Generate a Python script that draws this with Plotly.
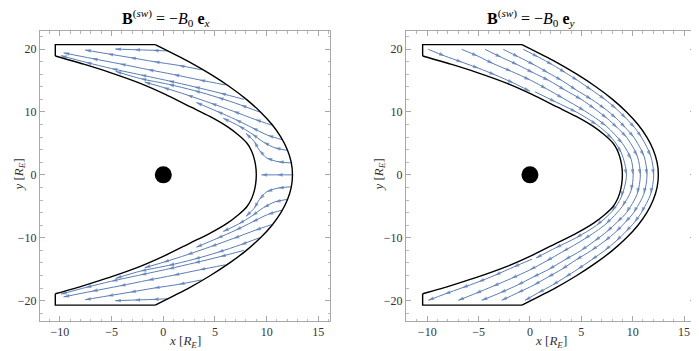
import plotly.graph_objects as go

# ---------------- boundaries ----------------
bs_y = [20.7, 18, 16, 14, 12, 10, 8, 6, 4, 2, 0, -2, -4, -6, -8, -10, -12, -14, -16, -18, -20.7]
bs_x = [-0.78, 2.46, 4.56, 6.42, 8.04, 9.4, 10.52, 11.38, 12.0, 12.38, 12.5, 12.38, 12.0, 11.38,
        10.52, 9.4, 8.04, 6.42, 4.56, 2.46, -0.78]
mp_y = [-18.9, -17.6, -16.3, -14.55, -12.8, -10.84, -9.3, -7.67, -6.3, -5.03, -4.0, -2.9, -1.5, 0,
        1.5, 2.9, 4.0, 5.03, 6.3, 7.67, 9.3, 10.84, 12.8, 14.55, 16.3, 17.6, 18.9]
mp_x = [-10.45, -7.7, -5.2, -2.23, 0.2, 2.6, 4.5, 6.2, 7.3, 8.1, 8.48, 8.74, 8.93, 9.0,
        8.93, 8.74, 8.48, 8.1, 7.3, 6.2, 4.5, 2.6, 0.2, -2.23, -5.2, -7.7, -10.45]
top_edge_x = [-10.45, -10.45, -0.78]
top_edge_y = [18.9, 20.7, 20.7]
bot_edge_x = [-10.45, -10.45, -0.78]
bot_edge_y = [-18.9, -20.7, -20.7]
earth_x = [0]
earth_y = [0]

# ---------------- panel 1 streamlines: B = -B0 e_x ----------------
p1_x = [
    [0.4, -1.0, -2.8, -4.65],
    [3.7, 1.5, -0.9, -3.2, -5.4, -7.56],
    [6.0, 3.5, 1.0, -1.5, -4.2, -6.9, -9.65],
    [7.8, 5.5, 3.0, 0.5, -2.2, -5.0, -7.5, -9.9],
    [9.3, 7.5, 5.3, 3.0, 0.5, -2.2, -4.6],
    [10.5, 8.9, 6.8, 4.6, 2.3, 0.0, -1.8],
    [11.5, 10.1, 8.6, 7.0, 5.2, 3.2],
    [12.0, 10.8, 9.7, 8.6, 7.3, 5.8],
    [12.4, 11.1, 10.0, 9.3, 8.8, 8.0],
    [12.45, 11.0, 9.5],
    [12.4, 11.1, 10.0, 9.3, 8.8, 8.0],
    [12.0, 10.8, 9.7, 8.6, 7.3, 5.8],
    [11.5, 10.1, 8.6, 7.0, 5.2, 3.2],
    [10.5, 8.9, 6.8, 4.6, 2.3, 0.0, -1.8],
    [9.3, 7.5, 5.3, 3.0, 0.5, -2.2, -4.6],
    [7.8, 5.5, 3.0, 0.5, -2.2, -5.0, -7.5, -9.9],
    [6.0, 3.5, 1.0, -1.5, -4.2, -6.9, -9.65],
    [3.7, 1.5, -0.9, -3.2, -5.4, -7.56],
    [0.4, -1.0, -2.8, -4.65],
]
p1_y = [
    [19.7, 19.8, 19.9, 20.0],
    [16.7, 17.4, 18.0, 18.65, 19.25, 19.85],
    [14.3, 15.1, 15.95, 16.75, 17.65, 18.5, 19.4],
    [12.0, 13.0, 14.0, 14.95, 15.9, 16.9, 17.9, 18.95],
    [10.0, 11.1, 12.3, 13.4, 14.4, 15.3, 16.45],
    [7.9, 8.8, 10.1, 11.4, 12.7, 13.9, 14.75],
    [5.6, 6.3, 7.5, 8.8, 10.1, 11.5],
    [3.9, 4.3, 5.2, 6.5, 7.8, 9.0],
    [1.9, 2.1, 2.7, 3.9, 5.3, 6.6],
    [0.0, 0.0, 0.0],
    [-1.9, -2.1, -2.7, -3.9, -5.3, -6.6],
    [-3.9, -4.3, -5.2, -6.5, -7.8, -9.0],
    [-5.6, -6.3, -7.5, -8.8, -10.1, -11.5],
    [-7.9, -8.8, -10.1, -11.4, -12.7, -13.9, -14.75],
    [-10.0, -11.1, -12.3, -13.4, -14.4, -15.3, -16.45],
    [-12.0, -13.0, -14.0, -14.95, -15.9, -16.9, -17.9, -18.95],
    [-14.3, -15.1, -15.95, -16.75, -17.65, -18.5, -19.4],
    [-16.7, -17.4, -18.0, -18.65, -19.25, -19.85],
    [-19.7, -19.8, -19.9, -20.0],
]

# ---------------- panel 2 streamlines: B = -B0 e_y ----------------
p2_x = [
    [-9.9, -8.3, -6.6, -5.0, -3.4, -1.6, 0.0],
    [0.2, -1.6, -3.4, -5.0, -6.6, -8.3, -9.9],
    [-6.65, -5.1, -3.6, -1.8, 0.0, 1.6, 3.2, 5.3, 7.4, 9.0, 9.85, 10.05, 9.85, 9.0, 7.4, 5.3, 3.2,
     1.6, 0.0, -1.8, -3.6, -5.3, -6.98],
    [-4.38, -2.8, -1.2, 0.3, 1.85, 3.4, 5.0, 6.3, 7.5, 8.5, 9.4, 10.45, 10.75, 10.45, 9.4, 8.5, 7.5,
     6.3, 5.0, 3.4, 1.85, 0.3, -1.2, -2.9, -4.7],
    [-2.6, -1.1, 0.4, 1.75, 3.1, 4.5, 6.0, 7.3, 8.4, 9.3, 10.1, 11.1, 11.4, 11.1, 10.1, 9.3, 8.4,
     7.3, 6.0, 4.5, 3.1, 1.75, 0.4, -1.2, -2.76],
    [-0.65, 0.8, 2.2, 3.45, 4.65, 6.0, 7.3, 8.4, 9.35, 10.2, 10.85, 11.76, 12.05, 11.76, 10.85,
     10.2, 9.35, 8.4, 7.3, 6.0, 4.65, 3.45, 2.2, 0.8, -0.48],
    [0.5, 2.5, 4.5, 6.5, 8.0, 8.9, 9.4, 8.9, 8.0, 6.5, 4.5, 2.5, 0.6],
]
p2_y = [
    [19.95, 18.9, 17.9, 16.95, 15.9, 14.6, 13.3],
    [-13.4, -14.65, -15.95, -17.0, -17.95, -18.95, -19.95],
    [19.95, 18.9, 17.7, 16.45, 15.1, 13.7, 12.2, 10.2, 7.8, 5.0, 2.5, 0.0, -2.5, -5.0, -7.8, -10.2,
     -12.2, -13.7, -15.1, -16.45, -17.7, -18.85, -19.95],
    [19.95, 18.7, 17.5, 16.25, 15.0, 13.5, 12.0, 10.5, 9.0, 7.5, 6.0, 3.0, 0.0, -3.0, -6.0, -7.5,
     -9.0, -10.5, -12.0, -13.5, -15.0, -16.25, -17.5, -18.75, -19.95],
    [19.95, 18.75, 17.5, 16.25, 15.0, 13.5, 12.0, 10.5, 9.0, 7.5, 6.0, 3.0, 0.0, -3.0, -6.0, -7.5,
     -9.0, -10.5, -12.0, -13.5, -15.0, -16.25, -17.5, -18.75, -19.95],
    [19.95, 18.75, 17.5, 16.25, 15.0, 13.5, 12.0, 10.5, 9.0, 7.5, 6.0, 3.0, 0.0, -3.0, -6.0, -7.5,
     -9.0, -10.5, -12.0, -13.5, -15.0, -16.25, -17.5, -18.75, -19.95],
    [13.2, 11.6, 10.0, 8.0, 5.8, 3.5, 0.0, -3.5, -5.8, -8.0, -10.0, -11.6, -13.2],
]

titles = ["<b>B</b><sup>(<i>sw</i>)</sup> = \u2212<i>B</i><sub>0</sub> <b>e</b><sub><i>x</i></sub>",
          "<b>B</b><sup>(<i>sw</i>)</sup> = \u2212<i>B</i><sub>0</sub> <b>e</b><sub><i>y</i></sub>"]
x_ticks = [-10, -5, 0, 5, 10, 15]
y_ticks = [-20, -10, 0, 10, 20]

STREAM = "#5b7db5"
SERIF = "Liberation Serif"

fig = go.Figure()


def add_panel(xa, ya, lines_x, lines_y):
    for lx, ly in zip(lines_x, lines_y):
        sizes = [0] + [6] * (len(lx) - 1)
        fig.add_trace(go.Scatter(
            x=lx, y=ly, mode="lines+markers", xaxis=xa, yaxis=ya,
            line=dict(color=STREAM, width=1, shape="spline", smoothing=0.8),
            marker=dict(symbol="arrow", size=sizes, angleref="previous", color=STREAM,
                        line=dict(width=0)),
            hoverinfo="skip", showlegend=False))
    for bx, by, shp in [(bs_x, bs_y, "spline"), (mp_x, mp_y, "spline"),
                        (top_edge_x, top_edge_y, "linear"), (bot_edge_x, bot_edge_y, "linear")]:
        fig.add_trace(go.Scatter(x=bx, y=by, mode="lines", xaxis=xa, yaxis=ya,
                                 line=dict(color="black", width=1.4, shape=shp, smoothing=0.6),
                                 hoverinfo="skip", showlegend=False))
    fig.add_trace(go.Scatter(x=earth_x, y=earth_y, mode="markers", xaxis=xa, yaxis=ya,
                             marker=dict(color="black", size=17), hoverinfo="skip",
                             showlegend=False))


add_panel("x", "y", p1_x, p1_y)
add_panel("x2", "y2", p2_x, p2_y)

# page body has an 8px default margin: lay out in page pixels minus that offset
OFF = 8
W, H = 699 - OFF, 351 - OFF


def px(v):
    return (v - OFF) / W


def py(v):
    return 1 - (v - OFF) / H


def xaxis(left, right, rng, anchor):
    return dict(domain=[px(left), px(right)], range=rng, anchor=anchor, tickvals=x_ticks,
                ticktext=[("\u2212" + str(-v)) if v < 0 else str(v) for v in x_ticks],
                showgrid=False, zeroline=False, showline=True, linecolor="#a8a8a8",
                linewidth=1, mirror="allticks", ticks="inside", ticklen=5, tickcolor="#a8a8a8",
                minor=dict(ticks="inside", ticklen=2.5, dtick=1, tickcolor="#b8b8b8",
                           showgrid=False),
                tickfont=dict(family=SERIF, size=12, color="#333"))


def yaxis(rng, anchor):
    return dict(domain=[py(321), py(31)], range=rng, anchor=anchor, tickvals=y_ticks,
                ticktext=[("\u2212" + str(-v)) if v < 0 else str(v) for v in y_ticks],
                showgrid=False, zeroline=False, showline=True, linecolor="#a8a8a8",
                linewidth=1, mirror="allticks", ticks="inside", ticklen=5, tickcolor="#a8a8a8",
                minor=dict(ticks="inside", ticklen=2.5, dtick=2, tickcolor="#b8b8b8",
                           showgrid=False),
                tickfont=dict(family=SERIF, size=12, color="#333"))


ann = []
for cx, t in zip([166, 531], titles):
    ann.append(dict(x=px(cx), y=py(18), xref="paper", yref="paper", text=t, showarrow=False,
                    xanchor="center", yanchor="middle",
                    font=dict(family=SERIF, size=16, color="black")))
for cx in [185, 551]:
    ann.append(dict(x=px(cx), y=py(341), xref="paper", yref="paper",
                    text="<i>x</i> [<i>R</i><sub><i>E</i></sub>]", showarrow=False,
                    xanchor="center", yanchor="middle",
                    font=dict(family=SERIF, size=13, color="#333")))
for lx in [8, 368]:
    ann.append(dict(x=px(lx), y=py(175), xref="paper", yref="paper",
                    text="<i>y</i> [<i>R</i><sub><i>E</i></sub>]", showarrow=False, textangle=-90,
                    xanchor="left", yanchor="middle",
                    font=dict(family=SERIF, size=13, color="#333")))

fig.update_layout(
    width=W, height=H, margin=dict(l=0, r=0, t=0, b=0),
    paper_bgcolor="white", plot_bgcolor="white", showlegend=False,
    xaxis=xaxis(40, 330, [-11.93, 16.13], "y"),
    xaxis2=xaxis(406, 695, [-12.07, 16.07], "y2"),
    yaxis=yaxis([-23.23, 22.87], "x"), yaxis2=yaxis([-23.23, 22.87], "x2"),
    annotations=ann,
)

fig.write_html("out.html")
